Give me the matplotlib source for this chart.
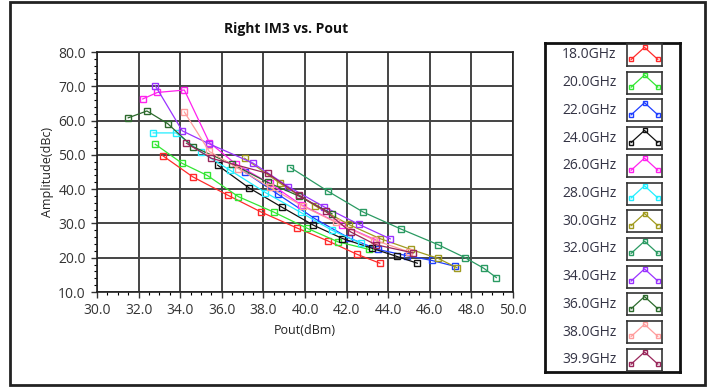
import matplotlib
matplotlib.use("Agg")
import matplotlib.pyplot as plt
from matplotlib.patches import Rectangle
from matplotlib.ticker import MultipleLocator

plt.rcParams['font.family'] = ['Open Sans', 'DejaVu Sans']

# Pout (dBm) / right IM3 (dBc) per frequency
labels = ['18.0GHz', '20.0GHz', '22.0GHz', '24.0GHz', '26.0GHz', '28.0GHz',
          '30.0GHz', '32.0GHz', '34.0GHz', '36.0GHz', '38.0GHz', '39.9GHz']
colors = ['#ff2a2a', '#33e633', '#1f3fff', '#111111', '#ff22ee', '#22eeff',
          '#a09a1e', '#2a9a62', '#9a33ff', '#2c6a2c', '#ff9c9c', '#99265a']

x18 = [33.15, 34.6, 36.3, 37.9, 39.6, 41.1, 42.5, 43.6]
y18 = [49.8, 43.6, 38.2, 33.3, 28.7, 24.9, 21.0, 18.4]
x20 = [32.8, 34.1, 35.3, 36.8, 38.5, 40.1, 41.6, 43.1]
y20 = [53.1, 47.5, 44.0, 37.8, 33.3, 28.6, 24.6, 22.4]
x22 = [37.1, 38.7, 40.5, 42.1, 43.5, 44.9, 46.1, 47.2]
y22 = [45.0, 38.5, 31.3, 25.8, 22.4, 20.6, 19.2, 17.5]
x24 = [35.8, 37.3, 38.9, 40.4, 41.8, 43.2, 44.4, 45.4]
y24 = [47.0, 40.4, 34.7, 29.5, 25.6, 22.8, 20.4, 18.4]
x26 = [32.2, 32.9, 34.2, 35.4, 36.7, 38.3, 39.8, 41.8, 43.4]
y26 = [66.3, 68.2, 68.9, 53.6, 47.2, 41.7, 35.5, 29.5, 25.2]
x28 = [32.7, 33.8, 35.0, 36.4, 38.1, 39.8, 41.3, 42.7]
y28 = [56.4, 56.4, 50.8, 45.5, 39.0, 33.2, 28.0, 24.2]
x30 = [37.1, 38.8, 40.5, 42.1, 43.6, 45.1, 46.4, 47.3]
y30 = [49.0, 41.7, 35.1, 29.7, 25.6, 22.4, 19.8, 17.1]
x32 = [39.3, 41.1, 42.8, 44.6, 46.4, 47.7, 48.6, 49.2]
y32 = [46.3, 39.4, 33.3, 28.4, 23.8, 20.0, 16.9, 14.2]
x34 = [32.8, 34.1, 35.4, 37.5, 39.2, 40.9, 42.6, 44.1]
y34 = [70.2, 57.0, 53.2, 47.6, 40.7, 34.9, 29.7, 25.5]
x36 = [31.5, 32.4, 33.4, 34.6, 36.5, 38.2, 39.7, 41.3]
y36 = [60.8, 62.8, 59.1, 52.4, 47.3, 42.0, 38.0, 32.8]
x38 = [34.2, 35.4, 36.8, 38.3, 39.9, 41.5, 43.3, 45.0]
y38 = [62.5, 51.0, 46.0, 40.6, 35.0, 30.3, 25.2, 21.7]
x399 = [34.3, 35.5, 38.2, 39.7, 41.0, 42.2, 43.4, 45.2]
y399 = [53.4, 49.0, 44.6, 38.3, 33.5, 27.5, 23.8, 21.4]

xs = [x18, x20, x22, x24, x26, x28, x30, x32, x34, x36, x38, x399]
ys = [y18, y20, y22, y24, y26, y28, y30, y32, y34, y36, y38, y399]

fig = plt.figure(figsize=(7.1, 3.87), dpi=100)
fig.patches.append(Rectangle((10 / 710, 2 / 387), 695 / 710, 383 / 387, transform=fig.transFigure,
                             fill=False, edgecolor='#222222', linewidth=2))

ax = fig.add_axes([97 / 710, 1 - 292 / 387, 416 / 710, 240 / 387])
for x, y, c in zip(xs, ys, colors):
    ax.plot(x, y, color=c, linewidth=0.9, marker='s', markersize=5,
            markerfacecolor='none', markeredgecolor=c, markeredgewidth=1.0)

ax.set_xlim(30, 50)
ax.set_ylim(10, 80)
ax.xaxis.set_major_locator(MultipleLocator(2))
ax.xaxis.set_minor_locator(MultipleLocator(0.5))
ax.yaxis.set_major_locator(MultipleLocator(10))
ax.yaxis.set_minor_locator(MultipleLocator(2))
ax.xaxis.set_major_formatter(matplotlib.ticker.FormatStrFormatter('%.1f'))
ax.yaxis.set_major_formatter(matplotlib.ticker.FormatStrFormatter('%.1f'))
ax.grid(True, which='major', color='#444444', linewidth=1.4)
ax.set_axisbelow(True)
for s in ax.spines.values():
    s.set_color('#222222')
    s.set_linewidth(1.2)
ax.tick_params(which='major', length=4, width=1, labelsize=10, colors='#333333', direction='out', pad=4)
ax.tick_params(which='minor', length=2.5, width=0.8, direction='out')
ax.set_xlabel('Pout(dBm)', fontsize=9, color='#222222', labelpad=4)
ax.set_ylabel('Amplitude(dBc)', fontsize=9, color='#222222', labelpad=3)
fig.text(286 / 710, 1 - 29 / 387, 'Right IM3 vs. Pout', ha='center', va='center',
         fontsize=10, fontweight='bold', color='#111111')

# legend box
lg = fig.add_axes([545 / 710, 1 - 372 / 387, 135 / 710, 329 / 387])
lg.set_xticks([])
lg.set_yticks([])
for s in lg.spines.values():
    s.set_linewidth(2)
    s.set_color('#111111')
lg.set_xlim(0, 1)
lg.set_ylim(0, 1)

for i, (lab, c) in enumerate(zip(labels, colors)):
    yc = 1 - (55 + i * 27.7 - 43) / 329
    lg.text(0.53, yc, lab, ha='right', va='center', fontsize=10, color='#333344')
    ic = fig.add_axes([627 / 710, 1 - (55 + i * 27.7 + 11) / 387, 35 / 710, 22 / 387])
    ic.plot([0.12, 0.5, 0.88], [0.3, 0.85, 0.3], color=c, linewidth=0.9, marker='s',
            markersize=3.5, markerfacecolor='none', markeredgecolor=c)
    ic.set_xlim(0, 1)
    ic.set_ylim(0, 1)
    ic.set_xticks([])
    ic.set_yticks([])
    for s in ic.spines.values():
        s.set_linewidth(1.2)
        s.set_color('#333333')

fig.savefig('out.png', dpi=100)
